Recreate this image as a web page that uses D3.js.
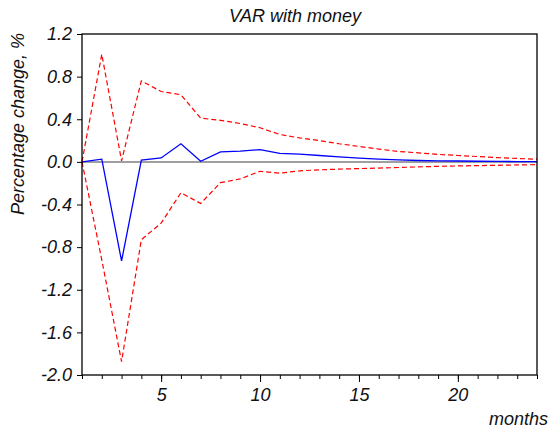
<!DOCTYPE html>
<html>
<head>
<meta charset="utf-8">
<script src="https://cdn.jsdelivr.net/npm/d3@7"></script>
<style>
  html, body { margin: 0; padding: 0; background: #fff; }
  svg { display: block; }
  text { font-family: "Liberation Sans", Arial, sans-serif; font-style: italic; fill: #111; }
</style>
</head>
<body>
<script>
// ---- data ----
const months = d3.range(1, 25);
const response = [0, 0.025, -0.93, 0.016, 0.037, 0.17, 0.006, 0.094, 0.10, 0.115, 0.08, 0.072,
                  0.06, 0.047, 0.036, 0.025, 0.018, 0.013, 0.01, 0.008, 0.006, 0.004, 0.003, 0.002];
const upperBand = [0, 1.01, 0.01, 0.76, 0.66, 0.63, 0.41, 0.39, 0.36, 0.32, 0.257, 0.225,
                   0.2, 0.17, 0.145, 0.12, 0.097, 0.085, 0.07, 0.06, 0.05, 0.04, 0.032, 0.025];
const lowerBand = [0, -0.92, -1.875, -0.73, -0.575, -0.29, -0.39, -0.195, -0.16, -0.088, -0.106, -0.084,
                   -0.075, -0.068, -0.063, -0.058, -0.053, -0.047, -0.042, -0.038, -0.035, -0.032, -0.029, -0.026];
const yTicks = [-2.0, -1.6, -1.2, -0.8, -0.4, 0.0, 0.4, 0.8, 1.2];
const xMajorTicks = [5, 10, 15, 20];
const titleText = "VAR with money";
const yLabelText = "Percentage change, %";
const xLabelText = "months";

// ---- layout ----
const W = 551, H = 437;
const L = 82, R = 537, T = 34, B = 375;

const svg = d3.select("body").append("svg").attr("width", W).attr("height", H);

const x = d3.scaleLinear().domain([1, 24]).range([L, R]);
const y = d3.scaleLinear().domain([-2.0, 1.2]).range([B, T]);

// zero line
svg.append("line")
  .attr("x1", L).attr("x2", R).attr("y1", y(0)).attr("y2", y(0))
  .attr("stroke", "#7f7f7f").attr("stroke-width", 1.5);

const line = d3.line().x((d, i) => x(months[i])).y(d => y(d));

svg.append("path").datum(upperBand)
  .attr("d", line).attr("fill", "none").attr("stroke", "#ff0000")
  .attr("stroke-width", 1.2).attr("stroke-dasharray", "5,3");
svg.append("path").datum(lowerBand)
  .attr("d", line).attr("fill", "none").attr("stroke", "#ff0000")
  .attr("stroke-width", 1.2).attr("stroke-dasharray", "5,3");
svg.append("path").datum(response)
  .attr("d", line).attr("fill", "none").attr("stroke", "#0000ff")
  .attr("stroke-width", 1.3);

// frame
svg.append("rect").attr("x", L).attr("y", T).attr("width", R - L).attr("height", B - T)
  .attr("fill", "none").attr("stroke", "#000").attr("stroke-width", 1.3);

// y axis
const yAxis = d3.axisLeft(y).tickValues(yTicks).tickSize(5).tickPadding(5)
  .tickFormat(d => d.toFixed(1));
const gy = svg.append("g").attr("transform", `translate(${L},0)`).call(yAxis);
gy.select(".domain").remove();
gy.selectAll("line").attr("stroke", "#000");
gy.selectAll("text").attr("font-size", 18).attr("font-style", "italic")
  .attr("font-family", "Liberation Sans, Arial, sans-serif").attr("fill", "#111");

// x axis minor ticks
const xMinor = d3.axisBottom(x).tickValues(months).tickSize(4).tickFormat("");
const gxm = svg.append("g").attr("transform", `translate(0,${B})`).call(xMinor);
gxm.select(".domain").remove();
gxm.selectAll("line").attr("stroke", "#000");

// x axis major ticks
const xMajor = d3.axisBottom(x).tickValues(xMajorTicks).tickSize(7).tickPadding(6)
  .tickFormat(d3.format("d"));
const gx = svg.append("g").attr("transform", `translate(0,${B})`).call(xMajor);
gx.select(".domain").remove();
gx.selectAll("line").attr("stroke", "#000");
gx.selectAll("text").attr("font-size", 18).attr("font-style", "italic")
  .attr("font-family", "Liberation Sans, Arial, sans-serif").attr("fill", "#111");

// title
svg.append("text").attr("x", 295).attr("y", 22).attr("text-anchor", "middle")
  .attr("font-size", 18).text(titleText);

// y label
svg.append("text").attr("transform", "translate(24,124) rotate(-90)")
  .attr("text-anchor", "middle").attr("font-size", 18).text(yLabelText);

// x label
svg.append("text").attr("x", 548).attr("y", 425).attr("text-anchor", "end")
  .attr("font-size", 18).text(xLabelText);
</script>
</body>
</html>
